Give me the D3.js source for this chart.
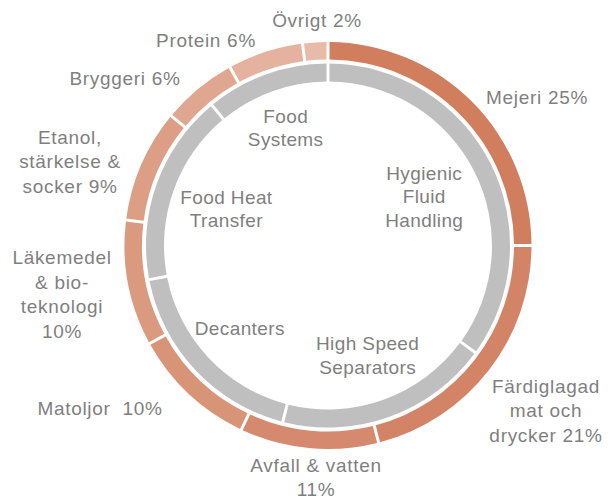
<!DOCTYPE html>
<html>
<head>
<meta charset="utf-8">
<script src="https://cdn.jsdelivr.net/npm/d3@7"></script>
<style>
  body { margin: 0; background: #fff; }
  text { font-family: "Liberation Sans", Arial, sans-serif; fill: #7f7f7f; white-space: pre; }
</style>
</head>
<body>
<div id="chart"></div>
<script>
// outer ring: industries
const industries = ["Mejeri", "Färdiglagad mat och drycker", "Avfall & vatten", "Matoljor",
  "Läkemedel & bioteknologi", "Etanol, stärkelse & socker", "Bryggeri", "Protein", "Övrigt"];
const industryShare = [25, 21, 11, 10, 10, 9, 6, 6, 2];
const industryLabels = [
  ["Mejeri 25%"],
  ["Färdiglagad", "mat och", "drycker 21%"],
  ["Avfall & vatten", "11%"],
  ["Matoljor  10%"],
  ["Läkemedel", "& bio-", "teknologi", "10%"],
  ["Etanol,", "stärkelse &", "socker 9%"],
  ["Bryggeri 6%"],
  ["Protein 6%"],
  ["Övrigt 2%"]
];

// inner ring: product areas
const products = ["Hygienic Fluid Handling", "High Speed Separators", "Decanters", "Food Heat Transfer", "Food Systems"];
const productShare = [35, 19, 18, 17, 11];
const productLabels = [
  ["Hygienic", "Fluid", "Handling"],
  ["High Speed", "Separators"],
  ["Decanters"],
  ["Food Heat", "Transfer"],
  ["Food", "Systems"]
];

const width = 608, height = 499;
const cx = 328, cy = 245.5;

const outerColors = ["#d17e5f", "#d38467", "#d5896e", "#d89477", "#da9a80", "#dc9f86", "#dfa690", "#e4b29f", "#e8bba9"];
const grey = "#bfbfbf";

// label block centres relative to chart centre (outer labels), label radius for inner
const outerLabelPos = [[209, -148], [218, 165], [-12, 232], [-228, 163], [-266, 49],
  [-258, -84], [-203, -167], [-122, -205], [-11, -225]];
const innerLabelR = [108, 117, 121, 108, 125];

const svg = d3.select("#chart")
  .append("svg")
  .attr("width", width)
  .attr("height", height)
  .append("g")
  .attr("transform", `translate(${cx},${cy})`);

const pie = d3.pie().sort(null).value(d => d);

const outerArc = d3.arc()
  .innerRadius(186)
  .outerRadius(203.5)
  .padRadius(200)
  .padAngle(3 / 200);

const innerArc = d3.arc()
  .innerRadius(164)
  .outerRadius(182)
  .padRadius(180)
  .padAngle(3 / 180);

const outerData = pie(industryShare);
const innerData = pie(productShare);

svg.selectAll(".outer")
  .data(outerData)
  .join("path")
  .attr("class", "outer")
  .attr("fill", (d, i) => outerColors[i])
  .attr("d", outerArc);

svg.selectAll(".inner")
  .data(innerData)
  .join("path")
  .attr("class", "inner")
  .attr("fill", grey)
  .attr("d", innerArc);

function multiline(g, lines, lineHeight) {
  const off = -(lines.length - 1) / 2 * lineHeight;
  lines.forEach((l, k) => {
    g.append("tspan")
      .attr("x", 0)
      .attr("y", off + k * lineHeight)
      .attr("dy", "0.35em")
      .text(l);
  });
}

// outer labels
industryLabels.forEach((lines, i) => {
  const [x, y] = outerLabelPos[i];
  const t = svg.append("text")
    .attr("transform", `translate(${x},${y})`)
    .attr("text-anchor", "middle")
    .style("font-size", "19px")
    .style("letter-spacing", "0.7px");
  multiline(t, lines, 24.5);
});

// inner labels
innerData.forEach((d, i) => {
  const mid = (d.startAngle + d.endAngle) / 2;
  const [x, y] = d3.pointRadial(mid, innerLabelR[i]);
  const t = svg.append("text")
    .attr("transform", `translate(${x},${y})`)
    .attr("text-anchor", "middle")
    .style("font-size", "19px")
    .style("letter-spacing", "0.4px");
  multiline(t, productLabels[i], 23.5);
});
</script>
</body>
</html>
